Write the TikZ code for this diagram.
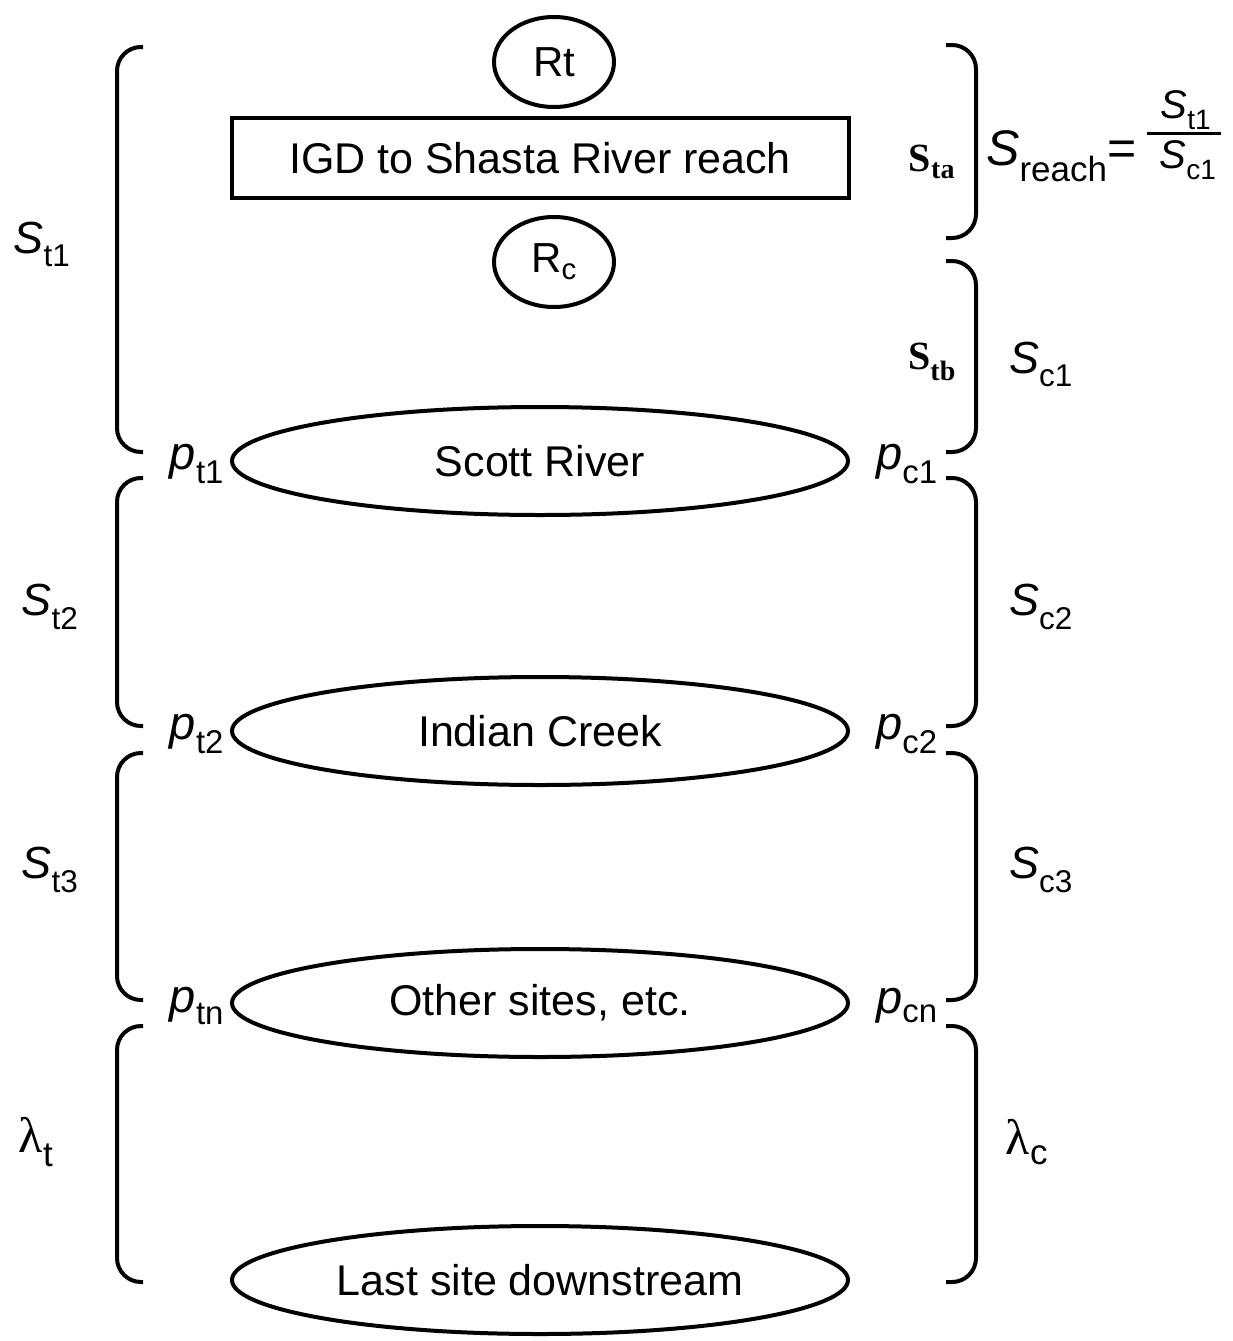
\documentclass[tikz,border=0pt]{standalone}
\usepackage{fontspec}
\setmainfont{Liberation Sans}
\newfontfamily\timesrm{Liberation Serif}
\usetikzlibrary{shapes.geometric}

\begin{document}
\begin{tikzpicture}[
    x=1pt, y=-1pt,
    site/.style={draw, ellipse, line width=4pt, minimum width=616pt, minimum height=108pt, inner sep=0pt, font=\fontsize{43}{50}\selectfont},
    rel/.style={draw, ellipse, line width=4pt, minimum width=120pt, minimum height=90pt, inner sep=0pt, font=\fontsize{42}{50}\selectfont},
    reach/.style={draw, line width=4pt, minimum width=617pt, minimum height=80pt, font=\fontsize{43}{50}\selectfont},
    brak/.style={line width=4pt, rounded corners=24pt},
    lbl/.style={font=\fontsize{45}{52}\selectfont, inner sep=0pt},
    plbl/.style={font=\fontsize{47}{54}\selectfont, inner sep=0pt},
    lam/.style={font=\fontsize{50}{58}\selectfont, inner sep=0pt},
    sub/.style={font=\fontsize{40}{46}\selectfont\timesrm\bfseries, inner sep=0pt}
  ]
  \useasboundingbox (0,0) rectangle (1233,1341);
  % reach and release groups
  \node[rel] (rt) at (554,62) {Rt};
  \node[reach] (igd) at (540,158) {IGD to Shasta River reach};
  \node[rel] (rc) at (554,262) {R\textsubscript{c}};
  % detection sites
  \node[site] (scott) at (540,461) {Scott River};
  \node[site] (indian) at (540,731) {Indian Creek};
  \node[site] (other) at (540,1003) {Other sites, etc.};
  \node[site] (last) at (540,1280) {Last site downstream};
  % left brackets
  \draw[brak] (143,47) -- (117,47) -- (117,452) -- (143,452);
  \draw[brak] (143,478) -- (117,478) -- (117,726) -- (143,726);
  \draw[brak] (143,753) -- (117,753) -- (117,1000) -- (143,1000);
  \draw[brak] (143,1026) -- (117,1026) -- (117,1282) -- (143,1282);
  % right brackets
  \draw[brak] (946,45) -- (976,45) -- (976,238) -- (946,238);
  \draw[brak] (946,261) -- (976,261) -- (976,452) -- (946,452);
  \draw[brak] (946,478) -- (976,478) -- (976,726) -- (946,726);
  \draw[brak] (946,753) -- (976,753) -- (976,1000) -- (946,1000);
  \draw[brak] (946,1026) -- (976,1026) -- (976,1282) -- (946,1282);
  % survival labels, left
  \node[lbl] (st1) at (42,244) {\textit{S}\textsubscript{t1}};
  \node[lbl] (st2) at (50,607) {\textit{S}\textsubscript{t2}};
  \node[lbl] (st3) at (50,870) {\textit{S}\textsubscript{t3}};
  \node[lam] (lamt) at (36,1142) {{\timesrm λ}\textsubscript{t}};
  % survival labels, right
  \node[lbl] (sc1) at (1041,364) {\textit{S}\textsubscript{c1}};
  \node[lbl] (sc2) at (1041,607) {\textit{S}\textsubscript{c2}};
  \node[lbl] (sc3) at (1041,870) {\textit{S}\textsubscript{c3}};
  \node[lam] (lamc) at (1027,1142) {{\timesrm λ}\textsubscript{c}};
  \node[sub] (sta) at (932,162) {S\textsubscript{ta}};
  \node[sub] (stb) at (932,362) {S\textsubscript{tb}};
  % detection probabilities
  \node[plbl] (pt1) at (197,464) {\textit{p}\textsubscript{t1}};
  \node[plbl] (pt2) at (197,734) {\textit{p}\textsubscript{t2}};
  \node[plbl] (ptn) at (197,1006) {\textit{p}\textsubscript{tn}};
  \node[plbl] (pc1) at (907,464) {\textit{p}\textsubscript{c1}};
  \node[plbl] (pc2) at (907,734) {\textit{p}\textsubscript{c2}};
  \node[plbl] (pcn) at (907,1006) {\textit{p}\textsubscript{cn}};
  % reach survival ratio
  \node[lbl, font=\fontsize{50}{56}\selectfont, anchor=base west] (sreach) at (986,165) {\textit{S}\textsubscript{reach}=};
  \node[lbl, font=\fontsize{40}{46}\selectfont] (num) at (1186,110) {\textit{S}\textsubscript{t1}};
  \node[lbl, font=\fontsize{40}{46}\selectfont] (den) at (1188,160) {\textit{S}\textsubscript{c1}};
  \draw[line width=3pt] (1147,133) -- (1221,133);
\end{tikzpicture}
\end{document}
